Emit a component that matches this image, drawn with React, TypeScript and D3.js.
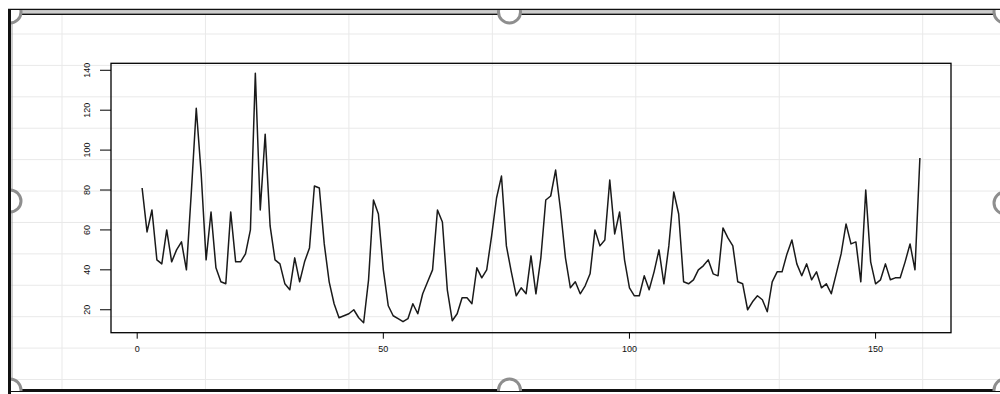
import React from "react";
import * as d3 from "d3";

// Series values (index 1..159)
const seriesValues: number[] = [
  81, 59, 70, 45, 43, 60, 44, 50, 54, 40,
  79, 121, 88, 45, 69, 41, 34, 33, 69, 44,
  44, 48, 60, 138.5, 70, 108, 62, 45, 43, 33,
  30, 46, 34, 44, 51, 82, 81, 53, 34, 23,
  16, 17, 18, 20, 16, 13.5, 35, 75, 68, 40,
  22, 17, 15.5, 14, 15.5, 23, 18, 28, 34, 40,
  70, 64, 30, 14.5, 18, 26, 26, 23, 41, 36,
  40, 57, 76, 87, 52, 39, 27, 31, 28, 47,
  28, 46, 75, 77, 90, 70, 46, 31, 34, 28,
  32, 38, 60, 52, 55, 85, 58, 69, 45, 31,
  27, 27, 37, 30, 39, 50, 33, 52, 79, 68,
  34, 33, 35, 40, 42, 45, 38, 37, 61, 56,
  52, 34, 33, 20, 24, 27, 25, 19, 34, 39,
  39, 48, 55, 43, 37, 43, 35, 39, 31, 33,
  28, 38, 48, 63, 53, 54, 34, 80, 44, 33,
  35, 43, 35, 36, 36, 44, 53, 40, 96,
];
const xTickValues: number[] = [0, 50, 100, 150];
const yTickValues: number[] = [20, 40, 60, 80, 100, 120, 140];

// spreadsheet background grid
const sheetColumns: number[] = [0, 1, 2, 3, 4, 5, 6];
const sheetRows: number[] = [0, 1, 2, 3, 4, 5, 6, 7, 8, 9, 10, 11];

const W = 1000;
const H = 394;
const box = { left: 111, right: 951, top: 63.3, bottom: 332.7 };

export default function App() {
  const n = seriesValues.length;
  const pts = seriesValues.map((v, i) => ({ x: i + 1, y: v }));
  const xPad = 0.04 * (n - 1);
  const x = d3.scaleLinear().domain([1 - xPad, n + xPad]).range([box.left, box.right]);
  const [ymin, ymax] = d3.extent(seriesValues) as [number, number];
  const yPad = 0.04 * (ymax - ymin);
  const y = d3.scaleLinear().domain([ymin - yPad, ymax + yPad]).range([box.bottom, box.top]);

  const line = d3
    .line<{ x: number; y: number }>()
    .x((d) => x(d.x))
    .y((d) => y(d.y));

  const font = "'Liberation Sans', Arial, Helvetica, sans-serif";
  const gridColor = "#e9e9e9";
  const handleColor = "#8e8e8e";

  const handles = [
    { cx: 10, cy: 12 },
    { cx: 509.5, cy: 12 },
    { cx: 1005, cy: 12 },
    { cx: 10, cy: 201 },
    { cx: 1005, cy: 203 },
    { cx: 10, cy: 390 },
    { cx: 509.5, cy: 390 },
    { cx: 1005, cy: 390 },
  ];

  return (
    <svg
      width={W}
      height={H}
      viewBox={`0 0 ${W} ${H}`}
      style={{ position: "absolute", left: 0, top: 0, background: "#fff" }}
    >
      <defs>
        <clipPath id="sheetClip">
          <rect x={8} y={10} width={W - 8} height={381} />
        </clipPath>
      </defs>

      {/* spreadsheet gridlines */}
      <g stroke={gridColor} strokeWidth={1}>
        {sheetColumns.map((c) => (
          <line key={"c" + c} x1={62 + 143.45 * c} x2={62 + 143.45 * c} y1={15} y2={389} />
        ))}
        {sheetRows.map((r) => (
          <line key={"r" + r} x1={11} x2={W} y1={34 + 31.41 * r} y2={34 + 31.41 * r} />
        ))}
      </g>

      {/* plot box */}
      <rect
        x={box.left}
        y={box.top}
        width={box.right - box.left}
        height={box.bottom - box.top}
        fill="none"
        stroke="#000"
        strokeWidth={1.3}
      />

      {/* x axis */}
      <g>
        {xTickValues.map((t) => (
          <g key={t}>
            <line x1={x(t)} x2={x(t)} y1={box.bottom} y2={box.bottom + 6} stroke="#000" strokeWidth={1} />
            <text
              x={x(t)}
              y={351.5}
              textAnchor="middle"
              fontFamily={font}
              fontSize={9}
              fill="#111"
            >
              {t}
            </text>
          </g>
        ))}
      </g>

      {/* y axis */}
      <g>
        {yTickValues.map((t) => (
          <g key={t}>
            <line x1={box.left} x2={box.left - 11} y1={y(t)} y2={y(t)} stroke="#000" strokeWidth={1} />
            <text
              x={90}
              y={y(t)}
              transform={`rotate(-90, 90, ${y(t)})`}
              textAnchor="middle"
              fontFamily={font}
              fontSize={9}
              fill="#111"
            >
              {t}
            </text>
          </g>
        ))}
      </g>

      {/* series */}
      <path d={line(pts) || ""} fill="none" stroke="#1a1a1a" strokeWidth={1.5} strokeLinejoin="round" />

      {/* frame borders */}
      <g>
        <line x1={8} x2={W} y1={9.5} y2={9.5} stroke="#111" strokeWidth={1.6} />
        <line x1={11} x2={W} y1={12} y2={12} stroke="#9a9a9a" strokeWidth={1} />
        <line x1={11} x2={W} y1={14.3} y2={14.3} stroke="#111" strokeWidth={1.6} />
        <line x1={12} x2={12} y1={15} y2={389} stroke="#a0a0a0" strokeWidth={1} />
        <line x1={8} x2={W} y1={390.5} y2={390.5} stroke="#111" strokeWidth={3} />
      </g>

      {/* selection handles */}
      <g clipPath="url(#sheetClip)">
        {handles.map((h, i) => (
          <circle
            key={i}
            cx={h.cx}
            cy={h.cy}
            r={11}
            fill="#fff"
            stroke={handleColor}
            strokeWidth={3}
          />
        ))}
      </g>
      <line x1={9.5} x2={9.5} y1={9} y2={H} stroke="#111" strokeWidth={3} />
    </svg>
  );
}
